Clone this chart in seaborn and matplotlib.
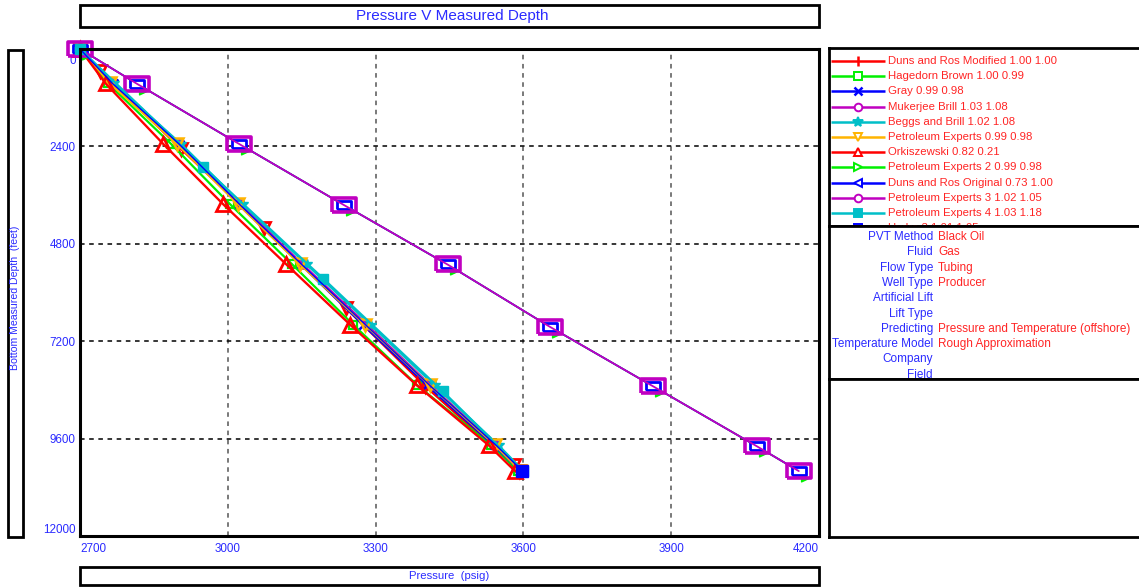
import matplotlib
matplotlib.use("Agg")
import matplotlib.pyplot as plt
import seaborn as sns
from matplotlib.patches import Rectangle
from matplotlib.transforms import ScaledTranslation

# ---------------- data ----------------
series_names = ["Duns and Ros Modified 1.00 1.00", "Hagedorn Brown 1.00 0.99", "Gray 0.99 0.98",
                "Mukerjee Brill 1.03 1.08", "Beggs and Brill 1.02 1.08", "Petroleum Experts 0.99 0.98",
                "Orkiszewski 0.82 0.21", "Petroleum Experts 2 0.99 0.98", "Duns and Ros Original 0.73 1.00",
                "Petroleum Experts 3 1.02 1.05", "Petroleum Experts 4 1.03 1.18", "Hydro 3 1.01 1.05"]

depth_std = [0, 850, 2340, 3830, 5310, 6800, 8290, 9770, 10400]
depth_drm = [0, 540, 2460, 4400, 6370, 8310, 10250, 10400]
depth_out = [0, 860, 2340, 3840, 5310, 6840, 8310, 9790, 10400]
depth_pe4 = [0, 2900, 5660, 8430, 10400]

p_drm = [2700, 2741, 2905, 3074, 3239, 3401, 3580, 3592]
p_hb = [2700, 2757, 2885, 3005, 3131, 3255, 3385, 3535, 3590]
p_gray = [2700, 2770, 2902, 3022, 3148, 3275, 3405, 3540, 3594]
p_mb = [2700, 2765, 2900, 3025, 3152, 3283, 3412, 3545, 3597]
p_bb = [2700, 2768, 2905, 3030, 3160, 3290, 3420, 3550, 3600]
p_pe = [2700, 2761, 2897, 3021, 3147, 3279, 3410, 3543, 3594]
p_ork = [2700, 2752, 2869, 2991, 3119, 3249, 3384, 3530, 3583]
p_pe2 = [2700, 2816, 3023, 3235, 3446, 3653, 3863, 4074, 4159]
p_dro = [2700, 2816, 3023, 3235, 3446, 3653, 3863, 4074, 4159]
p_pe3 = [2700, 2816, 3023, 3235, 3446, 3653, 3863, 4074, 4159]
p_pe4 = [2700, 2950, 3194, 3436, 3600]
p_h3 = [2700, 2766, 2901, 3024, 3150, 3280, 3410, 3545, 3598]

x_ticks = [2700, 3000, 3300, 3600, 3900, 4200]
y_ticks = [0, 2400, 4800, 7200, 9600, 12000]

info_labels = ["PVT Method", "Fluid", "Flow Type", "Well Type", "Artificial Lift", "Lift Type",
               "Predicting", "Temperature Model", "Company", "Field"]
info_values = ["Black Oil", "Gas", "Tubing", "Producer", "", "",
               "Pressure and Temperature (offshore)", "Rough Approximation", "", ""]

# ---------------- style ----------------
sns.set_style("white")
plt.rcParams["font.family"] = ["Liberation Sans", "DejaVu Sans"]

RED, GREEN, BLUE = "#FF0000", "#00F000", "#0000FF"
PURPLE, CYAN, ORANGE = "#C000C0", "#00BFC8", "#FFB400"
TXT_BLUE, TXT_RED = "#2B2BFF", "#FF2424"

rect_m = [(-1, -0.62), (1, -0.62), (1, 0.62), (-1, 0.62), (-1, -0.62)]
tri_off = [(0.2, -0.3), (0.2, -1.0), (0.95, -0.65), (0.2, -0.3)]

# (depths, pressures, color, plot marker, size, facecolor, edge width, line width, legend marker, markevery)
specs = [
    (depth_drm, p_drm, RED, "v", 9, "none", 2.0, 1.7, "|", None),
    (depth_std, p_hb, GREEN, "s", 6, "none", 1.6, 1.6, "s", None),
    (depth_std, p_gray, BLUE, "x", 6, "none", 1.8, 1.6, "x", None),
    (depth_std, p_mb, PURPLE, "o", 6, "none", 1.6, 1.6, "o", None),
    (depth_std, p_bb, CYAN, "*", 7, CYAN, 1.0, 1.6, "*", None),
    (depth_std, p_pe, ORANGE, "v", 8, "none", 1.8, 1.6, "v", None),
    (depth_std, p_ork, RED, "^", 10, "none", 2.0, 1.7, "^", None),
    (depth_out, p_pe2, GREEN, tri_off, 15, GREEN, 1.0, 1.2, ">", None),
    (depth_out, p_dro, BLUE, rect_m, 10, "white", 2.0, 1.2, "<", None),
    (depth_out, p_pe3, PURPLE, rect_m, 17, "none", 2.6, 1.3, "o", None),
    (depth_pe4, p_pe4, CYAN, "s", 7, CYAN, 1.0, 1.6, "s", None),
    (depth_std, p_h3, BLUE, "s", 8, BLUE, 1.0, 1.0, "s", [len(depth_std) - 1]),
]

W, H = 1139, 588
fig = plt.figure(figsize=(W / 100, H / 100), dpi=100)
fig.patch.set_facecolor("white")


def box(x0, y0, x1, y1):
    return [x0 / W, 1 - y1 / H, (x1 - x0) / W, (y1 - y0) / H]


def fig_rect(x0, y0, x1, y1, lw=2.0):
    fig.add_artist(Rectangle((x0 / W, 1 - y1 / H), (x1 - x0) / W, (y1 - y0) / H,
                             transform=fig.transFigure, fill=False, lw=lw, ec="black"))


# ---------------- main axes ----------------
ax = fig.add_axes(box(80, 49, 819, 536))
ax.set_facecolor("white")
for (d, p, c, m, ms, mfc, mew, lw, _lm, mev) in specs:
    sns.lineplot(x=p, y=d, ax=ax, color=c, marker=m, markersize=ms, mfc=mfc, mec=c,
                 mew=mew, lw=lw, sort=False, estimator=None, legend=False, clip_on=False,
                 markevery=mev)

ax.set_xlim(x_ticks[0], x_ticks[-1])
ax.set_ylim(y_ticks[-1], y_ticks[0])
ax.set_xticks(x_ticks)
ax.set_yticks(y_ticks)
ax.set_xticklabels([str(v) for v in x_ticks])
ax.set_yticklabels([str(v) for v in y_ticks])
ax.set_xlabel("")
ax.set_ylabel("")
ax.xaxis.grid(True, color="#555555", ls=(0, (3, 3)), lw=1.1)
ax.yaxis.grid(True, color="black", ls=(0, (3, 3)), lw=1.1)
ax.set_axisbelow(True)
for s in ax.spines.values():
    s.set_visible(True)
    s.set_color("black")
    s.set_linewidth(2.2)
ax.tick_params(axis="x", length=0, pad=5, labelsize=8.4, labelcolor=TXT_BLUE)
ax.tick_params(axis="y", length=0, pad=3, labelsize=8.4, labelcolor=TXT_BLUE)
xl = ax.get_xticklabels()
xl[0].set_ha("left")
xl[-1].set_ha("right")
yl = ax.get_yticklabels()
for t in yl:
    t.set_va("center_baseline")
yl[0].set_va("top")
yl[0].set_transform(yl[0].get_transform() + ScaledTranslation(0, -4 / 72, fig.dpi_scale_trans))
yl[-1].set_va("bottom")

# ---------------- title / axis label boxes ----------------
fig_rect(80, 5, 819, 27)
fig.text(452 / W, 1 - 16 / H, "Pressure V Measured Depth", color=TXT_BLUE, fontsize=11,
         ha="center", va="center")
fig_rect(80, 567, 819, 585)
fig.text(449 / W, 1 - 576 / H, "Pressure  (psig)", color=TXT_BLUE, fontsize=8.2,
         ha="center", va="center")
fig_rect(8, 50, 23, 537)
fig.text(15.5 / W, 1 - 298 / H, "Bottom Measured Depth  (feet)", color=TXT_BLUE, fontsize=7.6,
         ha="center", va="center", rotation=90)


def panel(y0, y1):
    a = fig.add_axes(box(829, y0, 1139, y1))
    a.set_xlim(829, 1139)
    a.set_ylim(y1, y0)
    a.set_xticks([])
    a.set_yticks([])
    a.set_facecolor("white")
    for k, s in a.spines.items():
        s.set_color("black")
        s.set_linewidth(2.0)
    a.spines["right"].set_visible(False)
    return a


# ---------------- legend panel ----------------
axL = panel(48, 226)
for i, (name, sp) in enumerate(zip(series_names, specs)):
    c, lm = sp[2], sp[8]
    y = 61 + i * 15.2
    axL.plot([831, 885], [y, y], color=c, lw=1.8, solid_capstyle="butt")
    filled = (lm == "s" and c == CYAN) or lm == "*"
    axL.plot([858], [y], marker=lm, ms=7 if lm in ("|", "*") else 5.5, color=c,
             mfc=c if filled else "white", mec=c, mew=1.8 if lm in ("|", "x") else 1.4)
    axL.text(888, y, name, color=TXT_RED, fontsize=8.2, va="center", ha="left", clip_on=True)

# ---------------- info panel ----------------
axI = panel(226, 379)
for i, (lab, val) in enumerate(zip(info_labels, info_values)):
    y = 237 + i * 15.3
    axI.text(933, y, lab, color=TXT_BLUE, fontsize=8.5, va="center", ha="right", clip_on=True)
    if val:
        axI.text(938, y, val, color=TXT_RED, fontsize=8.5, va="center", ha="left", clip_on=True)

# ---------------- empty panel ----------------
panel(379, 537)

fig.savefig("out.png", dpi=100, facecolor="white")
